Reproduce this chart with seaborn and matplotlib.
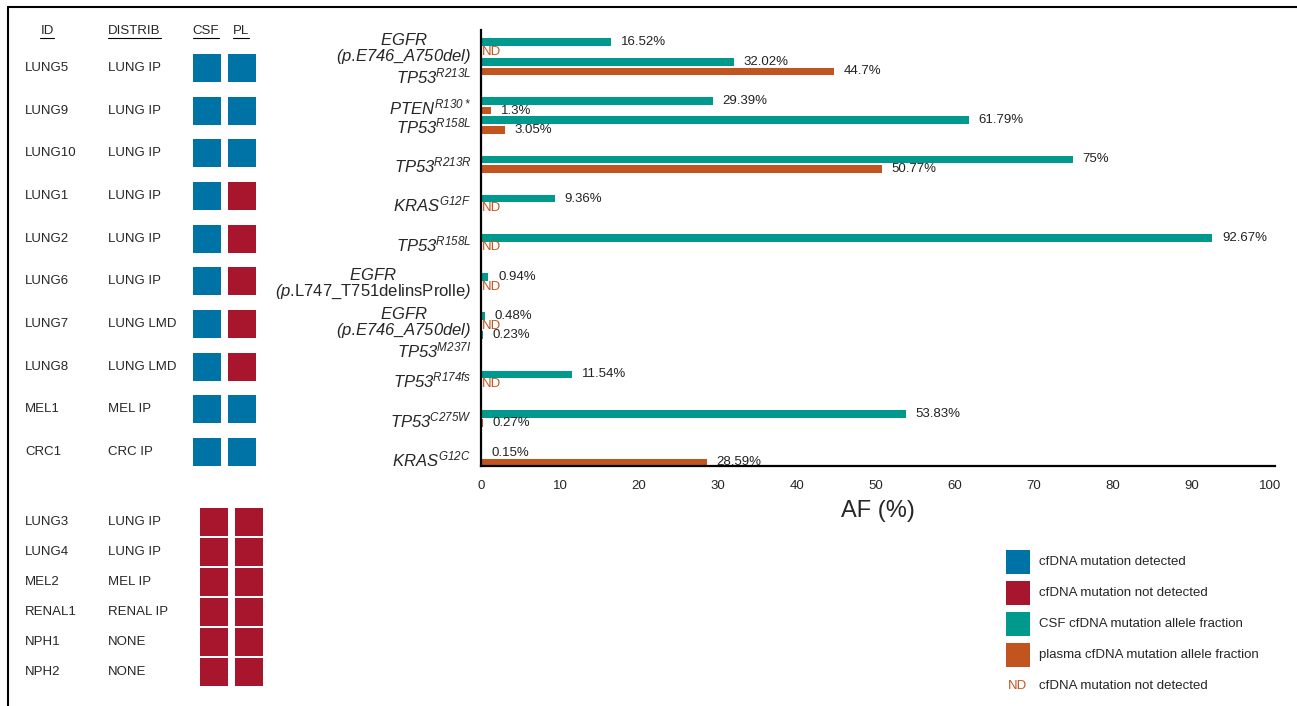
import numpy as np
import pandas as pd
import matplotlib
matplotlib.use('Agg')
import matplotlib.pyplot as plt
import matplotlib.transforms as mtransforms
from matplotlib.lines import Line2D
import seaborn as sns

# left table, patients with a mutation detected in CSF
top_ids = ['LUNG5', 'LUNG9', 'LUNG10', 'LUNG1', 'LUNG2', 'LUNG6', 'LUNG7', 'LUNG8', 'MEL1', 'CRC1']
top_distrib = ['LUNG IP', 'LUNG IP', 'LUNG IP', 'LUNG IP', 'LUNG IP', 'LUNG IP',
               'LUNG LMD', 'LUNG LMD', 'MEL IP', 'CRC IP']
top_csf = [1, 1, 1, 1, 1, 1, 1, 1, 1, 1]
top_pl = [1, 1, 1, 0, 0, 0, 0, 0, 1, 1]

# left table, patients with nothing detected
bottom_ids = ['LUNG3', 'LUNG4', 'MEL2', 'RENAL1', 'NPH1', 'NPH2']
bottom_distrib = ['LUNG IP', 'LUNG IP', 'MEL IP', 'RENAL IP', 'NONE', 'NONE']
bottom_csf = [0, 0, 0, 0, 0, 0]
bottom_pl = [0, 0, 0, 0, 0, 0]

# mutations shown in the bar chart
mut_patient = ['LUNG5', 'LUNG5', 'LUNG9', 'LUNG9', 'LUNG10', 'LUNG1', 'LUNG2',
               'LUNG6', 'LUNG7', 'LUNG7', 'LUNG8', 'MEL1', 'CRC1']
mut_label = [
    '$EGFR$\n$(p$.$E746\\_A750del)$',
    '$TP53^{R213L}$',
    '$PTEN^{R130*}$',
    '$TP53^{R158L}$',
    '$TP53^{R213R}$',
    '$KRAS^{G12F}$',
    '$TP53^{R158L}$',
    '$EGFR$\n$(p$.L747_T751delinsProlle$)$',
    '$EGFR$\n$(p$.$E746\\_A750del)$',
    '$TP53^{M237I}$',
    '$TP53^{R174fs}$',
    '$TP53^{C275W}$',
    '$KRAS^{G12C}$',
]
csf_af = [16.52, 32.02, 29.39, 61.79, 75, 9.36, 92.67, 0.94, 0.48, 0.23, 11.54, 53.83, 0.15]
plasma_af = [np.nan, 44.7, 1.3, 3.05, 50.77, np.nan, np.nan, np.nan, np.nan, np.nan,
             np.nan, 0.27, 28.59]
plasma_nd = [True, False, False, False, False, True, True, True, True, False, True, False, False]

legend_labels = ['cfDNA mutation detected', 'cfDNA mutation not detected',
                 'CSF cfDNA mutation allele fraction', 'plasma cfDNA mutation allele fraction',
                 'cfDNA mutation not detected']

BLUE = '#0073A6'
RED = '#A8162E'
TEAL = '#00998E'
ORANGE = '#C2551F'

sns.set_style('white')
plt.rcParams['font.family'] = ['Liberation Sans', 'DejaVu Sans']
plt.rcParams['mathtext.fontset'] = 'custom'
plt.rcParams['mathtext.rm'] = 'Liberation Sans:italic'
plt.rcParams['mathtext.it'] = 'Liberation Sans:italic'
plt.rcParams['mathtext.bf'] = 'Liberation Sans:bold:italic'

W, H = 1297, 706
fig = plt.figure(figsize=(W / 100, H / 100), dpi=100)

# ---- bar chart ----
keys = [f'{p}:{i}' for i, p in enumerate(mut_patient)]
order = []
prev = None
n_sp = 0
for p, k in zip(mut_patient, keys):
    if prev is not None and p != prev:
        n_sp += 1
        order.append(' ' * n_sp)
    order.append(k)
    prev = p

rows = []
for k, v in zip(keys, csf_af):
    rows.append({'key': k, 'sample': 'CSF', 'af': v})
for k, v, nd in zip(keys, plasma_af, plasma_nd):
    if nd:
        rows.append({'key': k, 'sample': 'Plasma', 'af': 0.0})
    elif not np.isnan(v):
        rows.append({'key': k, 'sample': 'Plasma', 'af': v})
df = pd.DataFrame(rows)

ax = fig.add_axes([481 / W, (H - 466) / H, (1275 - 481) / W, (466 - 30) / H])
hue_order = ['CSF', 'Plasma']
sns.barplot(data=df, x='af', y='key', hue='sample', order=order, hue_order=hue_order,
            palette=[TEAL, ORANGE], orient='h', width=1.0, gap=0.2, errorbar=None,
            saturation=1, linewidth=0, legend=False, ax=ax)

csf_map = dict(zip(keys, csf_af))
pl_map = dict(zip(keys, plasma_af))
nd_map = dict(zip(keys, plasma_nd))
for cont, samp in zip(ax.containers, hue_order):
    labels = []
    for patch in cont:
        yc = patch.get_y() + patch.get_height() / 2
        key = order[int(round(yc))]
        if samp == 'CSF':
            labels.append(f'{csf_map[key]:g}%')
        elif nd_map[key]:
            labels.append('')
            ax.text(0.15, yc, 'ND', color=ORANGE, ha='left', va='center', fontsize=9.5)
        else:
            labels.append(f'{pl_map[key]:g}%')
    ax.bar_label(cont, labels=labels, padding=7, fontsize=9.5, color='#222222')

ax.set_ylim(21.43, -0.87)
ax.set_xlim(0, 100.6)
ax.set_xticks(range(0, 101, 10))
ax.tick_params(axis='y', length=0, pad=7)
ax.tick_params(axis='x', length=5, width=1, direction='out', color='black', labelsize=9.5, pad=5)
ax.set_ylabel('')
ax.set_xlabel('AF (%)', fontsize=17, labelpad=6)
sns.despine(ax=ax)
for s in ['left', 'bottom']:
    ax.spines[s].set_color('black')
    ax.spines[s].set_linewidth(1.6)

ax.set_yticks([order.index(k) for k in keys])
ax.set_yticklabels(mut_label, fontsize=12)
# labels sitting under a two-line EGFR label are pushed down a little
shift_down = {1: 8, 9: 9}
for i, t in enumerate(ax.get_yticklabels()):
    t.set_multialignment('center')
    t.set_linespacing(0.95)
    if i in shift_down:
        t.set_transform(t.get_transform() +
                        mtransforms.ScaledTranslation(0, -shift_down[i] / 100, fig.dpi_scale_trans))

# ---- left table ----
COL_ID, COL_DIST = 25, 108
SQ = (28 * 0.72) ** 2


def draw_table(axt, ids, distrib, csf, pl, xs):
    long = pd.DataFrame({
        'row': list(range(len(ids))) * 2,
        'x': [xs[0]] * len(ids) + [xs[1]] * len(ids),
        'status': list(csf) + list(pl),
    })
    sns.scatterplot(data=long, x='x', y='row', hue='status', palette={1: BLUE, 0: RED},
                    marker='s', s=SQ, linewidth=0, legend=False, ax=axt)
    for i, (a, b) in enumerate(zip(ids, distrib)):
        axt.text(COL_ID, i, a, va='center', ha='left', fontsize=9.5)
        axt.text(COL_DIST, i, b, va='center', ha='left', fontsize=9.5)
    axt.set_xlim(0, 480)
    axt.set_ylim(len(ids) - 0.5, -0.5)
    axt.axis('off')


top_y0, top_y1 = 46.7, 473.3
ax_t = fig.add_axes([0, (H - top_y1) / H, 480 / W, (top_y1 - top_y0) / H])
draw_table(ax_t, top_ids, top_distrib, top_csf, top_pl, (207, 242))
hy = -0.87
headers = [
    ax_t.text(47, hy, 'ID', ha='center', va='center', fontsize=9.5),
    ax_t.text(COL_DIST, hy, 'DISTRIB', ha='left', va='center', fontsize=9.5),
    ax_t.text(206, hy, 'CSF', ha='center', va='center', fontsize=9.5),
    ax_t.text(241, hy, 'PL', ha='center', va='center', fontsize=9.5),
]

bot_y0, bot_y1 = 507, 687
ax_b = fig.add_axes([0, (H - bot_y1) / H, 480 / W, (bot_y1 - bot_y0) / H])
draw_table(ax_b, bottom_ids, bottom_distrib, bottom_csf, bottom_pl, (214, 249))

# ---- legend ----
leg_y0, leg_y1 = 546.5, 701.5
ax_l = fig.add_axes([990 / W, (H - leg_y1) / H, 307 / W, (leg_y1 - leg_y0) / H])
leg_df = pd.DataFrame({'x': [1018] * 4, 'row': [0, 1, 2, 3], 'c': ['b', 'r', 't', 'o']})
sns.scatterplot(data=leg_df, x='x', y='row', hue='c',
                palette={'b': BLUE, 'r': RED, 't': TEAL, 'o': ORANGE},
                marker='s', s=(24 * 0.72) ** 2, linewidth=0, legend=False, ax=ax_l)
for i, lab in enumerate(legend_labels):
    ax_l.text(1039, i, lab, va='center', ha='left', fontsize=9.5)
ax_l.text(1008, 4, 'ND', color=ORANGE, va='center', ha='left', fontsize=9.5)
ax_l.set_xlim(990, 1297)
ax_l.set_ylim(4.5, -0.5)
ax_l.axis('off')

# underline the table headers
renderer = fig.canvas.get_renderer()
for t in headers:
    bb = t.get_window_extent(renderer).transformed(fig.transFigure.inverted())
    fig.add_artist(Line2D([bb.x0, bb.x1], [bb.y0 - 1 / H, bb.y0 - 1 / H],
                          transform=fig.transFigure, color='black', lw=0.8))

# frame lines
fig.add_artist(Line2D([8 / W, 1], [1 - 7 / H, 1 - 7 / H], transform=fig.transFigure,
                      color='black', lw=1.5))
fig.add_artist(Line2D([8 / W, 8 / W], [0, 1 - 7 / H], transform=fig.transFigure,
                      color='black', lw=1.5))

fig.savefig('out.png', dpi=100)
